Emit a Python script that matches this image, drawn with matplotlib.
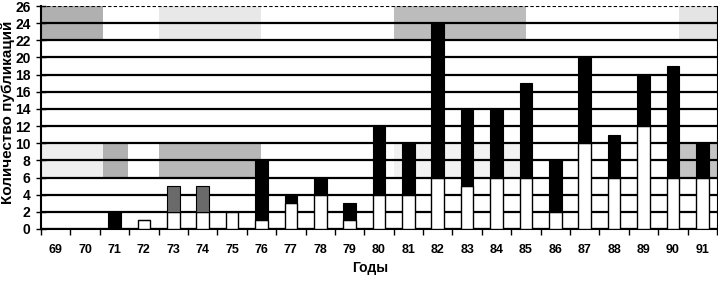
import matplotlib
matplotlib.use('Agg')
import matplotlib.pyplot as plt
from matplotlib.patches import Rectangle
import numpy as np

# Данные: количество публикаций по годам (две части столбца)
years = ['69', '70', '71', '72', '73', '74', '75', '76', '77', '78', '79', '80',
         '81', '82', '83', '84', '85', '86', '87', '88', '89', '90', '91']
lower = [0, 0, 0, 1, 2, 2, 2, 1, 3, 4, 1, 4, 4, 6, 5, 6, 6, 2, 10, 6, 12, 6, 6]
upper = [0, 0, 2, 0, 3, 3, 0, 7, 1, 2, 2, 8, 6, 18, 9, 8, 11, 6, 10, 5, 6, 13, 4]

plt.rcParams['font.family'] = ['Liberation Sans', 'DejaVu Sans']
plt.rcParams['font.weight'] = 'bold'

fig = plt.figure(figsize=(7.18, 2.81), dpi=100)
ax = fig.add_axes([41 / 718, 1 - 229 / 281, 676 / 718, 223 / 281])

x = np.arange(len(years))
w = 0.43

# серые пятна скана (фон)
spots = [
    (-0.5, 22, 2.1, 4, '#b0b0b0'),
    (3.5, 22, 3.5, 4, '#e8e8e8'),
    (11.5, 22, 4.5, 4, '#bcbcbc'),
    (21.2, 22, 1.3, 4, '#e4e4e4'),
    (-0.5, 6, 2.1, 4, '#eeeeee'),
    (1.6, 6, 0.85, 4, '#b0b0b0'),
    (3.5, 6, 3.5, 4, '#b8b8b8'),
    (11.5, 6, 4.5, 4, '#f2f2f2'),
    (20.9, 6, 1.6, 4, '#c4c4c4'),
]
for x0, y0, dx, dy, c in spots:
    ax.add_patch(Rectangle((x0, y0), dx, dy, facecolor=c, edgecolor='none', zorder=0))

top_colors = ['black'] * len(years)
top_colors[4] = '#6a6a6a'
top_colors[5] = '#6a6a6a'

ax.bar(x, lower, width=w, color='white', edgecolor='black', linewidth=1.0, zorder=3)
ax.bar(x, upper, width=w, bottom=lower, color=top_colors, edgecolor='black',
       linewidth=0.8, zorder=3)

ax.set_xlim(-0.5, len(years) - 0.5)
ax.set_ylim(0, 26)
ax.set_yticks(np.arange(0, 27, 2))
ax.set_xticks(x)
ax.set_xticklabels(years, fontsize=9, fontweight='bold')
ax.set_xticks(np.arange(-0.5, len(years), 1), minor=True)
ax.tick_params(axis='x', which='major', length=0, pad=11)
ax.tick_params(axis='x', which='minor', length=4, width=1, direction='out')
ax.tick_params(axis='y', length=7, width=1, direction='inout', labelsize=10, pad=4)
for lb in ax.get_yticklabels():
    lb.set_fontweight('bold')

ax.yaxis.grid(True, color='black', linewidth=1.6, zorder=1)
ax.set_axisbelow(True)
gl = ax.get_ygridlines()
gl[-1].set_linewidth(0.8)
gl[-1].set_linestyle((0, (3, 2)))

ax.spines['top'].set_visible(False)
ax.spines['left'].set_linewidth(1.5)
ax.spines['bottom'].set_linewidth(1.5)
ax.spines['right'].set_linewidth(0.8)

fig.text(8 / 718, 1 - 112 / 281, 'Количество публикаций', rotation=90,
         ha='center', va='center', fontsize=11, fontweight='bold')
fig.text(370 / 718, 1 - 268 / 281, 'Годы', ha='center', va='center',
         fontsize=10, fontweight='bold')

fig.savefig('out.png', dpi=100, facecolor='white')
